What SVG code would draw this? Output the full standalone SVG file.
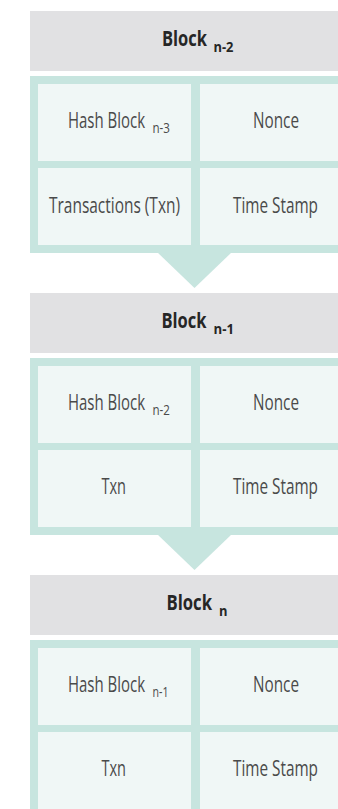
<svg xmlns="http://www.w3.org/2000/svg" width="338" height="809" viewBox="0 0 338 809">
<style>
.hdr{fill:#e1e1e3}
.box{fill:#c7e5df}
.cell{fill:#f0f7f6}
.arrow{fill:#c7e5df}
.t{font-family:"Open Sans","Liberation Sans",sans-serif;font-size:22.5px;font-weight:400;fill:#4a4a4a}
.h{font-family:"Open Sans","Liberation Sans",sans-serif;font-size:21px;font-weight:700;fill:#262626}
.s{font-size:14.5px}
</style>
<rect width="338" height="809" fill="#ffffff"/>
<g id="connectors">
<polygon class="arrow" points="157,252 232,252 194.5,288"/>
<polygon class="arrow" points="157,534 232,534 194.5,570"/>
</g>
<g id="block-n-2">
<rect class="hdr" x="30" y="11" width="330" height="60"/>
<text class="h" x="162" y="46"><tspan textLength="45" lengthAdjust="spacingAndGlyphs">Block</tspan><tspan class="s" x="213.5" y="52" textLength="20" lengthAdjust="spacingAndGlyphs">n-2</tspan></text>
<rect class="box" x="30" y="76" width="330" height="177"/>
<rect class="cell" x="38" y="84" width="153" height="77"/>
<rect class="cell" x="200" y="84" width="152" height="77"/>
<rect class="cell" x="38" y="168" width="153" height="77"/>
<rect class="cell" x="200" y="168" width="152" height="77"/>
<text class="t" x="68" y="128"><tspan textLength="77" lengthAdjust="spacingAndGlyphs">Hash Block</tspan><tspan class="s" x="152.5" y="133" textLength="17.5" lengthAdjust="spacingAndGlyphs">n-3</tspan></text>
<text class="t" x="253" y="128" textLength="46" lengthAdjust="spacingAndGlyphs">Nonce</text>
<text class="t" x="49" y="212.5" textLength="131" lengthAdjust="spacingAndGlyphs">Transactions (Txn)</text>
<text class="t" x="233" y="212.5" textLength="85" lengthAdjust="spacingAndGlyphs">Time Stamp</text>
</g>
<g id="block-n-1">
<rect class="hdr" x="30" y="293" width="330" height="60"/>
<text class="h" x="161.5" y="328"><tspan textLength="45" lengthAdjust="spacingAndGlyphs">Block</tspan><tspan class="s" x="213.5" y="334" textLength="20.5" lengthAdjust="spacingAndGlyphs">n-1</tspan></text>
<rect class="box" x="30" y="358" width="330" height="177"/>
<rect class="cell" x="38" y="366" width="153" height="77"/>
<rect class="cell" x="200" y="366" width="152" height="77"/>
<rect class="cell" x="38" y="450" width="153" height="77"/>
<rect class="cell" x="200" y="450" width="152" height="77"/>
<text class="t" x="68" y="410"><tspan textLength="77" lengthAdjust="spacingAndGlyphs">Hash Block</tspan><tspan class="s" x="152.5" y="415" textLength="17.5" lengthAdjust="spacingAndGlyphs">n-2</tspan></text>
<text class="t" x="253" y="410" textLength="46" lengthAdjust="spacingAndGlyphs">Nonce</text>
<text class="t" x="101.5" y="494" textLength="24.5" lengthAdjust="spacingAndGlyphs">Txn</text>
<text class="t" x="233" y="494" textLength="85" lengthAdjust="spacingAndGlyphs">Time Stamp</text>
</g>
<g id="block-n">
<rect class="hdr" x="30" y="575" width="330" height="60"/>
<text class="h" x="166.5" y="610"><tspan textLength="45.5" lengthAdjust="spacingAndGlyphs">Block</tspan><tspan class="s" x="219" y="616" textLength="8.5" lengthAdjust="spacingAndGlyphs">n</tspan></text>
<rect class="box" x="30" y="640" width="330" height="177"/>
<rect class="cell" x="38" y="648" width="153" height="77"/>
<rect class="cell" x="200" y="648" width="152" height="77"/>
<rect class="cell" x="38" y="732" width="153" height="77"/>
<rect class="cell" x="200" y="732" width="152" height="77"/>
<text class="t" x="68" y="692"><tspan textLength="77" lengthAdjust="spacingAndGlyphs">Hash Block</tspan><tspan class="s" x="152.5" y="697" textLength="16" lengthAdjust="spacingAndGlyphs">n-1</tspan></text>
<text class="t" x="253" y="692" textLength="46" lengthAdjust="spacingAndGlyphs">Nonce</text>
<text class="t" x="101.5" y="776" textLength="24.5" lengthAdjust="spacingAndGlyphs">Txn</text>
<text class="t" x="233" y="776" textLength="85" lengthAdjust="spacingAndGlyphs">Time Stamp</text>
</g>
</svg>
